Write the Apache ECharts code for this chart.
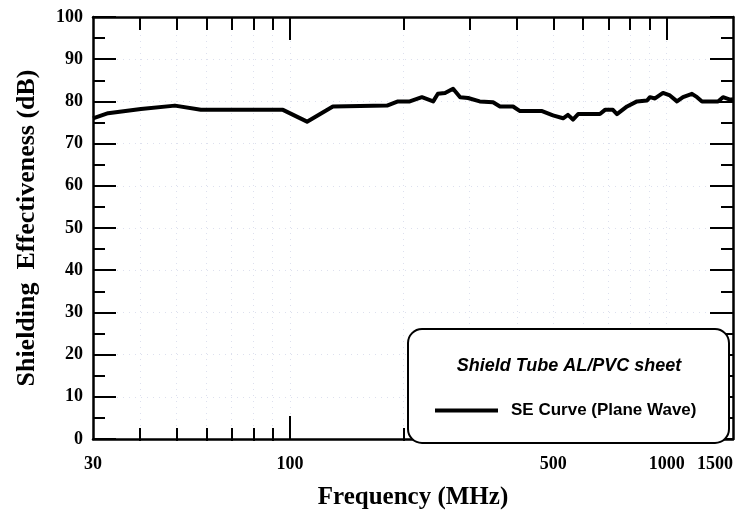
<!DOCTYPE html>
<html><head><meta charset="utf-8">
<script src="https://cdn.jsdelivr.net/npm/echarts@6/dist/echarts.min.js"></script>
<style>html,body{margin:0;padding:0;background:#fff}#c{width:743px;height:515px}</style>
</head><body><div id="c"></div>
<script>
const freqMHz = [30, 32.9, 40.2, 49.5, 58, 95.8, 111, 130, 181, 193.5, 208, 224, 240, 247, 258, 271, 283, 297, 319, 346, 361, 391, 408, 467, 499, 531, 547, 564, 582, 665, 686, 720, 738, 785, 834, 887, 903, 931, 978, 1020, 1065, 1105, 1167, 1204, 1241, 1369, 1411, 1473, 1500];
const seDb    = [76, 77.2, 78.2, 79, 78, 78, 75.2, 78.8, 79, 80, 80, 81, 80, 81.8, 82, 83, 81, 80.8, 80, 79.8, 78.8, 78.8, 77.7, 77.7, 76.7, 76, 76.8, 75.7, 77, 77, 78, 78, 77, 78.8, 80, 80.2, 81, 80.7, 82, 81.4, 80, 81, 81.8, 81, 80, 80, 81, 80.4, 80.5];
const xLabelTicks = [30, 100, 500, 1000, 1500];
const xMajorTicks = [100, 1000];
const xMinorTicks = [40, 50, 60, 70, 80, 90, 200, 300, 400, 500, 600, 700, 800, 900];
const seriesName = 'SE Curve (Plane Wave)';
const boxTitle = 'Shield Tube AL/PVC sheet';
const xTitle = 'Frequency (MHz)';
const yTitle = 'Shielding  Effectiveness (dB)';

const lg = v => Math.log10(v);
const xMin = lg(freqMHz[0]), xMax = lg(freqMHz[freqMHz.length - 1]);
const serif = 'Liberation Serif';
const sans = 'Liberation Sans';
const faintGrid = { show: true, lineStyle: { color: '#dde0ee', width: 1, type: [1, 5] } };
const gridRect = { left: 93, right: 10, top: 17, bottom: 74, containLabel: false };

function xAx(grid, pos, ticks, len, opts) {
  return Object.assign({
    type: 'value', gridIndex: grid, position: pos, min: xMin, max: xMax, offset: 0,
    axisLine: { show: false, onZero: false },
    axisTick: { show: true, inside: true, length: len, customValues: ticks.map(lg), lineStyle: { color: '#000', width: 2 } },
    axisLabel: { show: false },
    splitLine: { show: false }
  }, opts || {});
}

const chart = echarts.init(document.getElementById('c'));
chart.setOption({
  animation: false,
  backgroundColor: '#fff',
  grid: [Object.assign({}, gridRect), Object.assign({}, gridRect)],
  xAxis: [
    xAx(0, 'bottom', xMajorTicks, 23, {
      axisLine: { show: true, onZero: false, lineStyle: { color: '#000', width: 2.5 } },
      axisLabel: {
        show: true, customValues: xLabelTicks.map(lg), margin: 16,
        formatter: v => String(Math.round(Math.pow(10, v))),
        fontFamily: serif, fontWeight: 'bold', fontSize: 18, color: '#000',
        alignMaxLabel: 'right'
      },
      splitLine: faintGrid,
      name: xTitle, nameLocation: 'middle', nameGap: 46,
      nameTextStyle: { fontFamily: serif, fontWeight: 'bold', fontSize: 25, color: '#000' }
    }),
    xAx(0, 'top', xMajorTicks, 23, { axisLine: { show: true, onZero: false, lineStyle: { color: '#000', width: 2.5 } } }),
    xAx(1, 'bottom', xMinorTicks, 13, { splitLine: faintGrid }),
    xAx(1, 'top', xMinorTicks, 13)
  ],
  yAxis: [
    {
      type: 'value', gridIndex: 0, position: 'left', min: 0, max: 100, interval: 10,
      axisLine: { show: true, onZero: false, lineStyle: { color: '#000', width: 2.5 } },
      axisTick: { show: true, inside: true, length: 23, lineStyle: { color: '#000', width: 2 } },
      minorTick: { show: true, splitNumber: 2, length: 12, lineStyle: { color: '#000', width: 2 } },
      axisLabel: { fontFamily: serif, fontWeight: 'bold', fontSize: 18, color: '#000', margin: 10 },
      splitLine: faintGrid,
      name: yTitle, nameLocation: 'middle', nameGap: 53, nameRotate: 90,
      nameTextStyle: { fontFamily: serif, fontWeight: 'bold', fontSize: 26, color: '#000' }
    },
    {
      type: 'value', gridIndex: 0, position: 'right', min: 0, max: 100, interval: 10,
      axisLine: { show: true, onZero: false, lineStyle: { color: '#000', width: 2.5 } },
      axisTick: { show: true, inside: true, length: 23, lineStyle: { color: '#000', width: 2 } },
      minorTick: { show: true, splitNumber: 2, length: 12, lineStyle: { color: '#000', width: 2 } },
      axisLabel: { show: false },
      splitLine: { show: false }
    },
    {
      type: 'value', gridIndex: 1, min: 0, max: 100, show: false
    }
  ],
  legend: {
    left: 430, top: 397, icon: 'rect', itemWidth: 63, itemHeight: 4, z: 30,
    data: [seriesName],
    textStyle: { fontFamily: sans, fontWeight: 'bold', fontSize: 17, color: '#000', padding: [0, 0, 0, 8] }
  },
  graphic: [
    { type: 'rect', left: 407, top: 328, z: 20, shape: { width: 321, height: 114, r: 14 },
      style: { fill: '#fff', stroke: '#000', lineWidth: 2 } },
    { type: 'text', x: 569, y: 366, z: 30,
      style: { text: boxTitle, align: 'center', verticalAlign: 'middle', fill: '#000',
        font: 'italic bold 18px "Liberation Sans"' } }
  ],
  series: [{
    name: seriesName, type: 'line', xAxisIndex: 0, yAxisIndex: 0,
    data: freqMHz.map((f, i) => [lg(f), seDb[i]]),
    showSymbol: false, symbol: 'none',
    lineStyle: { color: '#000', width: 4, join: 'round' },
    itemStyle: { color: '#000' }, z: 5
  }]
});
</script></body></html>
